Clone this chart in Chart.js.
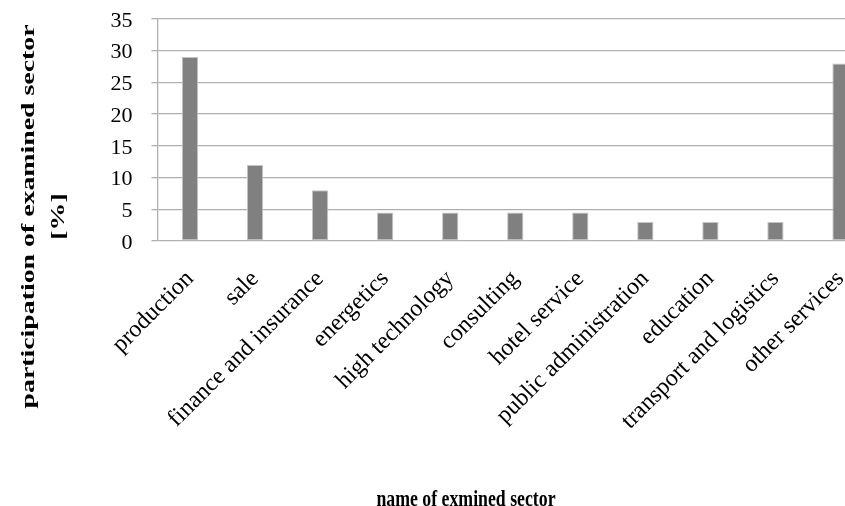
<!DOCTYPE html>
<html>
<head>
<meta charset="utf-8">
<script src="https://cdn.jsdelivr.net/npm/chart.js@4/dist/chart.umd.min.js"></script>
<style>
  html, body { margin: 0; padding: 0; background: #fff; overflow: hidden; width: 845px; height: 506px; }
  canvas { display: block; }
</style>
</head>
<body>
<canvas id="c" width="880" height="506"></canvas>
<script>
// Share of each examined sector, in percent
const sectors = [
  'production', 'sale', 'finance and insurance', 'energetics', 'high technology',
  'consulting', 'hotel service', 'public administration', 'education',
  'transport and logistics', 'other services'
];
const shares = [29, 12, 8, 4.5, 4.5, 4.5, 4.5, 3, 3, 3, 28];
const yTicks = [0, 5, 10, 15, 20, 25, 30, 35];

const yTitleLines = ['participation of examined sector', '[%]'];
const xTitle = 'name of exmined sector';

Chart.defaults.font.family = '"Liberation Serif", "Times New Roman", serif';
Chart.defaults.color = '#000';

// Axis titles drawn by hand so they sit centred on the whole figure
const axisTitles = {
  id: 'axisTitles',
  afterDraw(chart) {
    const ctx = chart.ctx;
    ctx.save();
    ctx.fillStyle = '#000';
    ctx.textAlign = 'center';
    ctx.textBaseline = 'alphabetic';
    ctx.font = 'bold 26px "Liberation Serif", serif';
    ctx.translate(34, 216.5);
    ctx.rotate(-Math.PI / 2);
    ctx.scale(1.07, 0.74);
    ctx.fillText(yTitleLines[0], 0, 0);
    ctx.fillText(yTitleLines[1], 0, 40);
    ctx.restore();

    ctx.save();
    ctx.fillStyle = '#000';
    ctx.textAlign = 'center';
    ctx.textBaseline = 'alphabetic';
    ctx.font = 'bold 24px "Liberation Serif", serif';
    ctx.translate(466, 506);
    ctx.scale(0.74, 1);
    ctx.fillText(xTitle, 0, 0);
    ctx.restore();
  }
};

new Chart(document.getElementById('c'), {
  type: 'bar',
  data: {
    labels: sectors,
    datasets: [{
      data: shares,
      backgroundColor: '#808080',
      borderColor: '#c4c4c4',
      borderWidth: 1,
      borderSkipped: false,
      barPercentage: 0.5,
      categoryPercentage: 0.5
    }]
  },
  options: {
    responsive: false,
    animation: false,
    layout: { padding: { top: 19, right: 7, left: 0, bottom: 0 } },
    plugins: { legend: { display: false }, tooltip: { enabled: false } },
    scales: {
      x: {
        grid: { display: false },
        border: { display: false },
        ticks: {
          autoSkip: false,
          minRotation: 45,
          maxRotation: 45,
          font: { size: 24 },
          color: '#000',
          padding: 16
        },
        afterFit(scale) { scale.height = 265; }
      },
      y: {
        min: 0,
        max: 35,
        afterBuildTicks(scale) { scale.ticks = yTicks.map(v => ({ value: v })); },
        grid: { color: '#b0b0b0', lineWidth: 1.3, tickLength: 6, drawTicks: true },
        border: { display: true, color: '#b0b0b0', width: 1.3 },
        ticks: { font: { size: 22 }, color: '#000', padding: 19, labelOffset: 2 },
        afterFit(scale) {
          scale.width = 157.5;
          scale.paddingTop = 0;
          scale.paddingBottom = 0;
        }
      }
    }
  },
  plugins: [axisTitles]
});
</script>
</body>
</html>
